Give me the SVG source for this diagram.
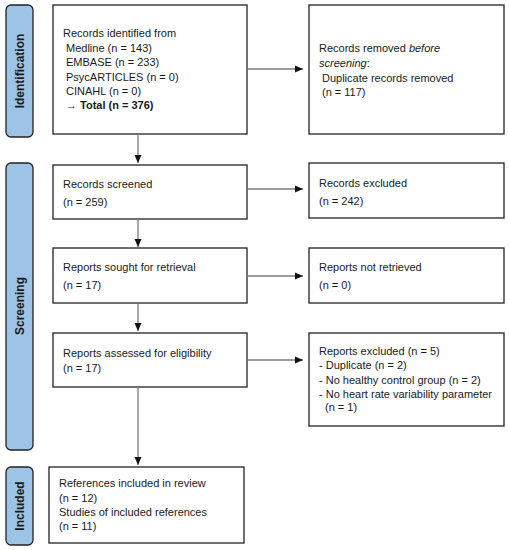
<svg xmlns="http://www.w3.org/2000/svg" width="509" height="550" viewBox="0 0 509 550">
<style>
.box{fill:#fff;stroke:#222;stroke-width:1.3}
.side{fill:#9dc3e6;stroke:#222;stroke-width:1.3}
.t{font-family:"Liberation Sans",Arial,sans-serif;font-size:11px;fill:#1a1a1a}
.s{font-family:"Liberation Sans",Arial,sans-serif;font-size:12px;font-weight:bold;fill:#1a1a1a}
.c{fill:none;stroke:#7a7a7a;stroke-width:1.3;marker-end:url(#ah)}
</style>
<defs>
<marker id="ah" markerUnits="userSpaceOnUse" markerWidth="9" markerHeight="8" refX="8" refY="4" orient="auto">
<path d="M0,0.5 L8,4 L0,7.5 z" fill="#111"/>
</marker>
</defs>
<rect width="509" height="550" fill="#fff"/>
<g id="phase-identification">
<rect class="side" x="6" y="5" width="27" height="132" rx="5"/>
<text class="s" transform="translate(23.5,71) rotate(-90)" text-anchor="middle">Identification</text>
</g>
<g id="phase-screening">
<rect class="side" x="6" y="163" width="27" height="287" rx="5"/>
<text class="s" transform="translate(23.5,306) rotate(-90)" text-anchor="middle">Screening</text>
</g>
<g id="phase-included">
<rect class="side" x="6" y="467" width="27" height="78" rx="5"/>
<text class="s" transform="translate(23.5,506) rotate(-90)" text-anchor="middle">Included</text>
</g>
<g id="identified">
<rect class="box" x="53" y="5" width="194" height="129"/>
<text class="t" x="63" y="37">Records identified from</text>
<text class="t" x="66" y="52">Medline (n = 143)</text>
<text class="t" x="66" y="66">EMBASE (n = 233)</text>
<text class="t" x="66" y="81">PsycARTICLES (n = 0)</text>
<text class="t" x="66" y="95">CINAHL (n = 0)</text>
<text class="t" x="66" y="109">→ <tspan font-weight="bold">Total (n = 376)</tspan></text>
</g>
<g id="removed">
<rect class="box" x="309" y="5" width="195" height="129"/>
<text class="t" x="319" y="52">Records removed <tspan font-style="italic">before</tspan></text>
<text class="t" x="319" y="67"><tspan font-style="italic">screening</tspan>:</text>
<text class="t" x="322" y="82">Duplicate records removed</text>
<text class="t" x="322" y="96">(n = 117)</text>
</g>
<g id="screened">
<rect class="box" x="53" y="165" width="194" height="54"/>
<text class="t" x="63" y="188">Records screened</text>
<text class="t" x="63" y="206">(n = 259)</text>
</g>
<g id="excluded">
<rect class="box" x="309" y="163" width="195" height="55"/>
<text class="t" x="319" y="187">Records excluded</text>
<text class="t" x="319" y="205">(n = 242)</text>
</g>
<g id="sought">
<rect class="box" x="53" y="248" width="194" height="55"/>
<text class="t" x="63" y="271">Reports sought for retrieval</text>
<text class="t" x="63" y="289">(n = 17)</text>
</g>
<g id="not-retrieved">
<rect class="box" x="309" y="248" width="195" height="55"/>
<text class="t" x="319" y="271">Reports not retrieved</text>
<text class="t" x="319" y="289">(n = 0)</text>
</g>
<g id="assessed">
<rect class="box" x="53" y="333" width="194" height="54"/>
<text class="t" x="63" y="357">Reports assessed for eligibility</text>
<text class="t" x="63" y="372">(n = 17)</text>
</g>
<g id="reports-excluded">
<rect class="box" x="309" y="333" width="195" height="93"/>
<text class="t" x="319" y="355" font-size="12.5px">Reports excluded (n = 5)</text>
<text class="t" x="319" y="369" font-size="10px">- Duplicate (n = 2)</text>
<text class="t" x="319" y="384" font-size="10px">- No healthy control group (n = 2)</text>
<text class="t" x="319" y="398" font-size="10px">- No heart rate variability parameter</text>
<text class="t" x="325" y="411" font-size="10px">(n = 1)</text>
</g>
<g id="included">
<rect class="box" x="49" y="467" width="195" height="76"/>
<text class="t" x="59" y="487">References included in review</text>
<text class="t" x="59" y="502">(n = 12)</text>
<text class="t" x="59" y="516">Studies of included references</text>
<text class="t" x="59" y="530">(n = 11)</text>
</g>
<g id="connectors">
<path class="c" d="M247,69 H303"/>
<path class="c" d="M138,134 V163"/>
<path class="c" d="M247,189 H303"/>
<path class="c" d="M138,219 V247"/>
<path class="c" d="M247,276 H303"/>
<path class="c" d="M138,303 V331"/>
<path class="c" d="M247,360 H303"/>
<path class="c" d="M138,387 V465"/>
</g>
</svg>
